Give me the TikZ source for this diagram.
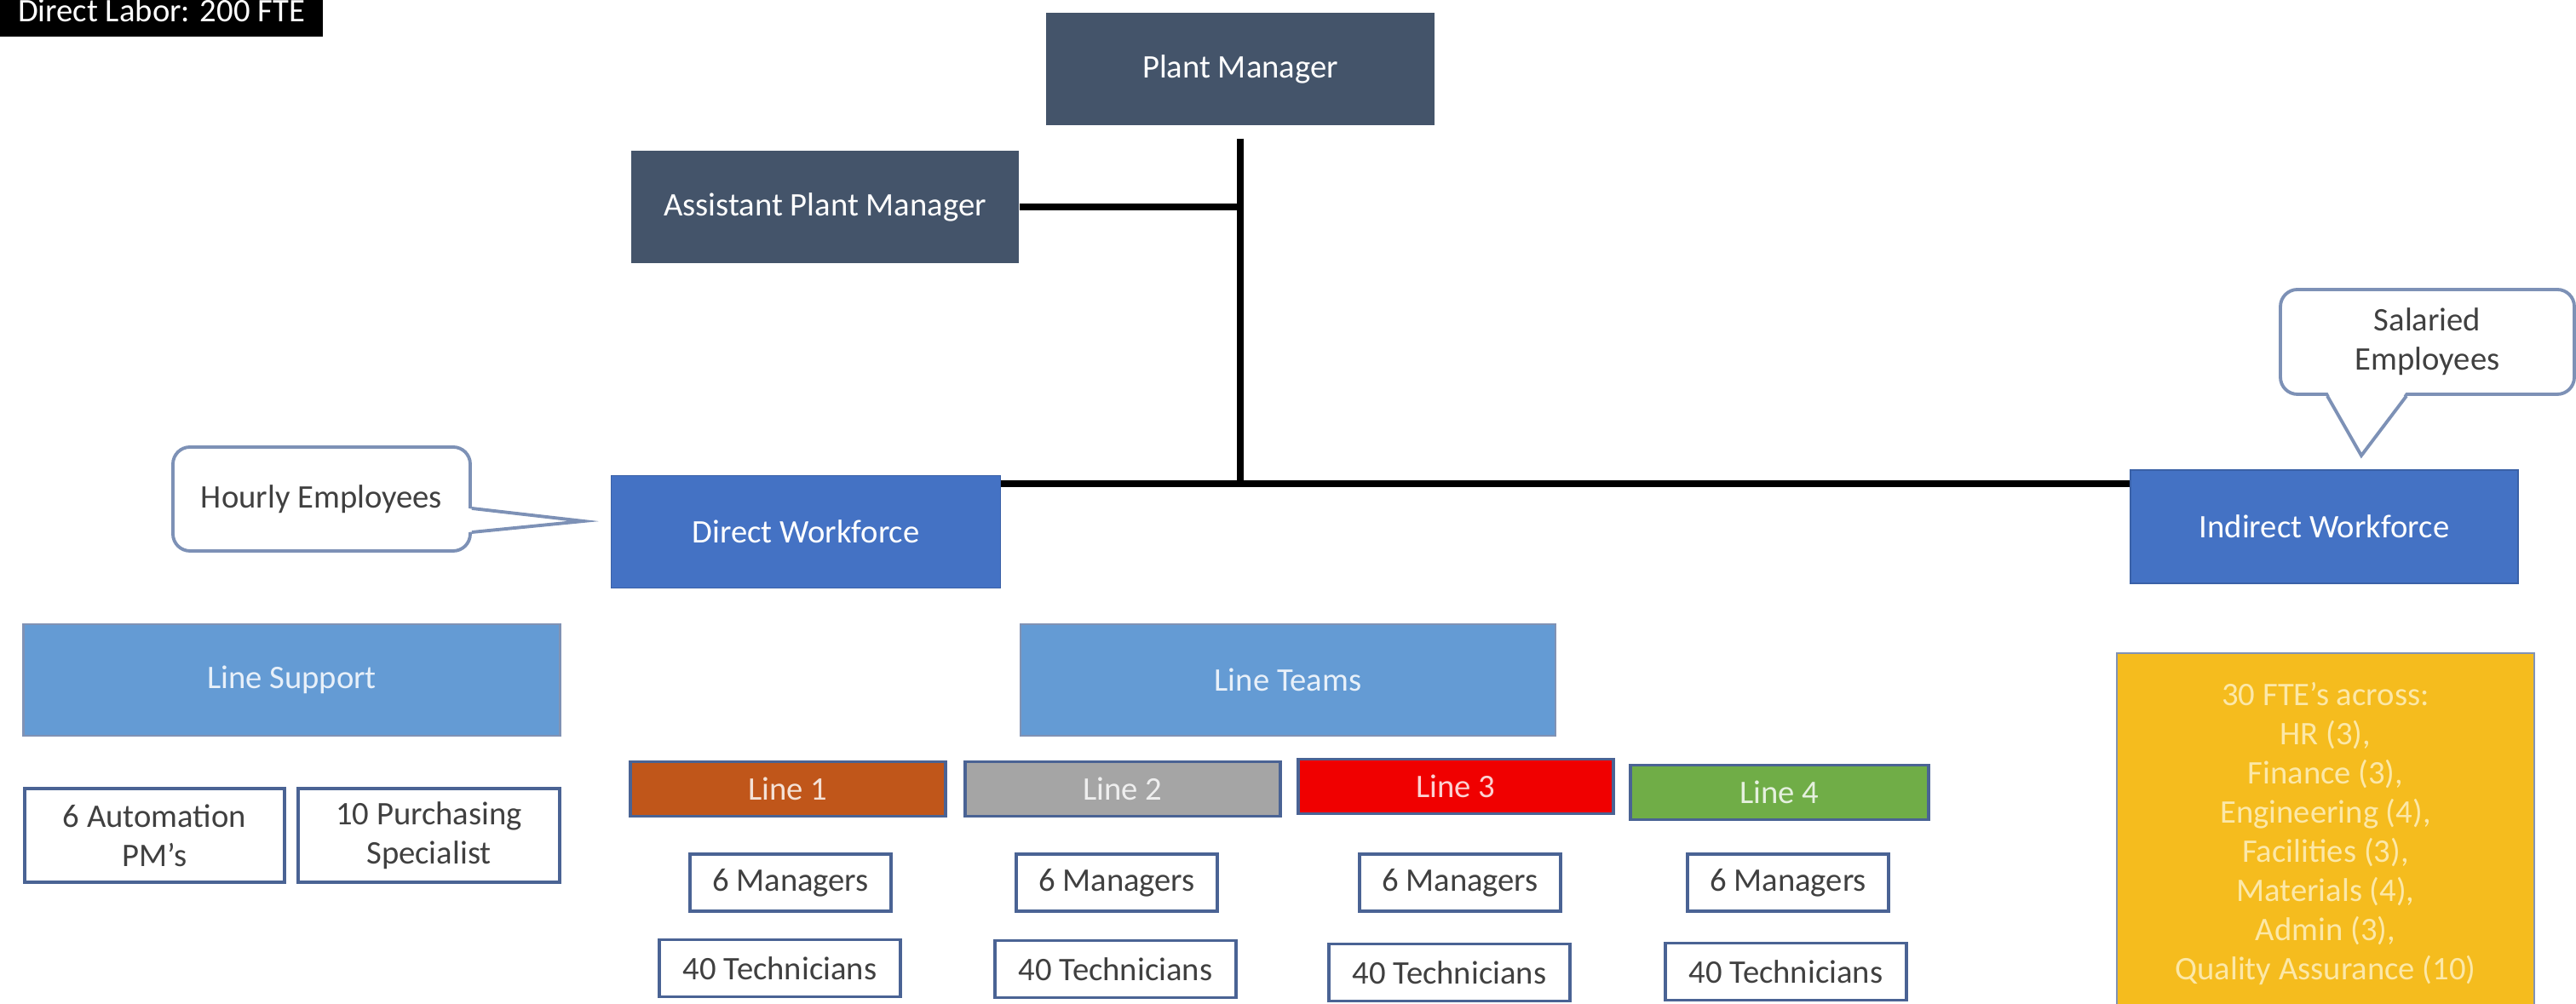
\documentclass[tikz,border=0pt]{standalone}
\usepackage{fontspec}
\setmainfont{Carlito}
\usepackage{tikz}
\usetikzlibrary{positioning,calc}
\definecolor{mslate}{HTML}{44546A}
\definecolor{mblue}{HTML}{4472C4}
\definecolor{lblue}{HTML}{649BD4}
\definecolor{lorange}{HTML}{C0561A}
\definecolor{lgrey}{HTML}{A5A5A5}
\definecolor{lred}{HTML}{F00000}
\definecolor{lgreen}{HTML}{70AD47}
\definecolor{myellow}{HTML}{F5BC1E}
\definecolor{ptext}{HTML}{FCE8A8}
\definecolor{bline}{HTML}{4A6394}
\definecolor{cline}{HTML}{7D91B6}
\tikzset{
  box/.style={rectangle,minimum height=1.32cm,inner sep=2pt,align=center,
              font=\fontsize{11}{13.1}\selectfont,text=white},
  mgr/.style={box,fill=mslate,minimum width=4.56cm},
  wf/.style={box,fill=mblue,draw=mblue!85!black,line width=0.5pt,minimum width=4.57cm},
  grp/.style={box,fill=lblue,draw=bline!70,line width=0.8pt,text=white!85!lblue,
              minimum width=6.3cm,minimum height=1.31cm},
  linebox/.style={box,fill=#1,draw=bline,line width=0.9pt,text=white!82!#1,
              minimum width=3.7cm,minimum height=0.64cm},
  crew/.style={box,fill=white,draw=bline,line width=1pt,text=black!75,minimum height=0.67cm},
  bubble/.style={box,draw=cline,line width=1.1pt,fill=white,text=black!75,rounded corners=0.2cm},
  tip/.style={draw=cline,line width=1.1pt},
  link/.style={line width=2.2pt,black},
}
\begin{document}
\begin{tikzpicture}
\useasboundingbox (0,0) rectangle (30.24,11.79);
% header tag
\node[box,fill=black,minimum width=3.79cm,minimum height=0.62cm] (labor) at (1.895,11.67) {Direct Labor: 200 FTE};
% management
\node[mgr] (pm) at (14.56,10.98) {Plant Manager};
\node[mgr,minimum width=4.55cm] (apm) at (9.685,9.36) {Assistant Plant Manager};
% workforce
\node[wf] (direct) at (9.46,5.545) {Direct Workforce};
\node[wf,minimum width=4.55cm,minimum height=1.33cm] (indirect) at (27.285,5.605) {Indirect Workforce};
% callouts
\node[bubble,minimum width=3.49cm,minimum height=1.22cm] (hourly) at (3.775,5.93) {Hourly Employees};
\coordinate (hourlytip) at (6.85,5.67);
\fill[white] ($(hourly.east)+(-0.05,-0.11)$) -- (hourlytip) -- ($(hourly.east)+(-0.05,-0.39)$) -- cycle;
\draw[tip] ($(hourly.east)+(0,-0.11)$) -- (hourlytip) -- ($(hourly.east)+(0,-0.39)$);
\node[bubble,minimum width=3.45cm,minimum height=1.23cm] (salaried) at (28.495,7.775) {Salaried\\Employees};
\coordinate (salariedtip) at (27.72,6.44);
\fill[white] ($(salaried.south)+(-1.175,0.05)$) -- (salariedtip) -- ($(salaried.south)+(-0.245,0.05)$) -- cycle;
\draw[tip] ($(salaried.south)+(-1.175,0)$) -- (salariedtip) -- ($(salaried.south)+(-0.245,0)$);
% connectors
\coordinate (pmfoot) at ($(pm.south)+(0,-0.15)$);
\coordinate (hub) at ($(pm.south)+(0,-4.2)$);
\draw[link] (pmfoot) -- (hub);
\draw[link] (apm.east) -- (apm.east -| hub);
\draw[link] (direct.east |- hub) -- (indirect.west |- hub);
% line support
\node[grp] (support) at (3.425,3.805) {Line Support};
\node[crew,minimum width=3.05cm,minimum height=1.1cm] (autom) at (1.815,1.98) {6 Automation\\PM’s};
\node[crew,minimum width=3.07cm,minimum height=1.1cm] (purch) at (5.035,1.98) {10 Purchasing\\Specialist};
% line teams
\node[grp,minimum width=6.28cm] (teams) at (15.12,3.805) {Line Teams};
\node[linebox=lorange] (line1) at (9.25,2.525) {Line 1};
\node[linebox=lgrey] (line2) at (13.18,2.525) {Line 2};
\node[linebox=lred] (line3) at (17.09,2.555) {Line 3};
\node[linebox=lgreen,minimum width=3.5cm] (line4) at (20.89,2.485) {Line 4};
\foreach \i/\x in {1/9.28,2/13.11,3/17.14,4/20.99}
  \node[crew,minimum width=2.36cm] (mgr\i) at (\x,1.425) {6 Managers};
\foreach \i/\x/\y in {1/9.155/0.42,2/13.095/0.41,3/17.015/0.37,4/20.965/0.38}
  \node[crew,minimum width=2.83cm] (tech\i) at (\x,\y) {40 Technicians};
% indirect functions
\node[box,fill=myellow,draw=bline!70,line width=0.8pt,text=ptext,minimum width=4.9cm,minimum height=4.24cm] (funcs) at (27.30,2.0)
  {30 FTE’s across:\\HR (3),\\Finance (3),\\Engineering (4),\\Facilities (3),\\Materials (4),\\Admin (3),\\Quality Assurance (10)};
\end{tikzpicture}
\end{document}
